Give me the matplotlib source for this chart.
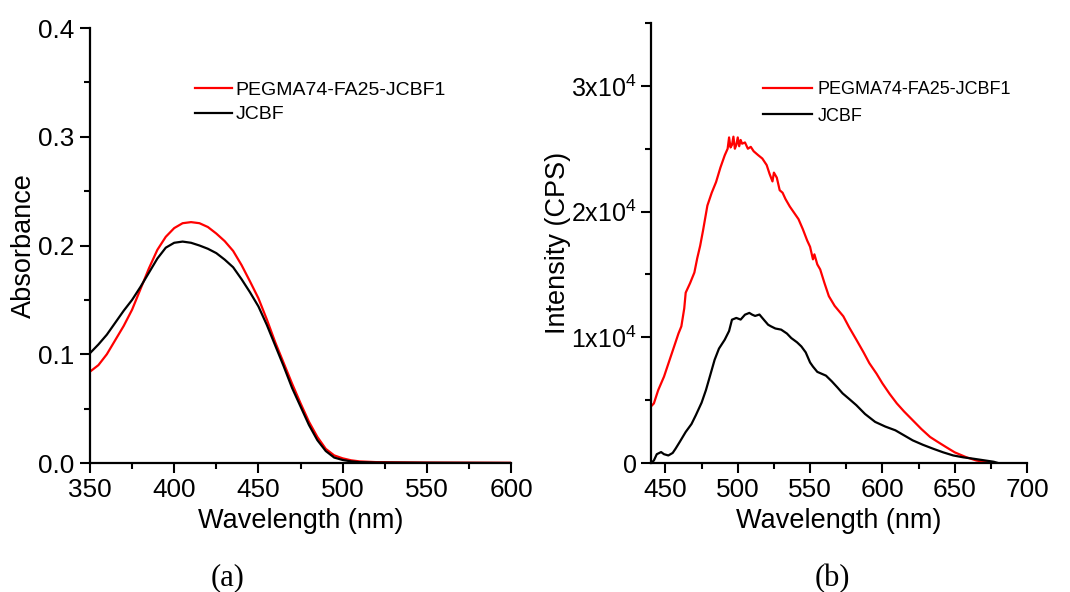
import matplotlib
matplotlib.use("Agg")
import matplotlib.pyplot as plt
from matplotlib.ticker import MultipleLocator, FuncFormatter

plt.rcParams['font.family'] = ['Liberation Sans', 'DejaVu Sans']
plt.rcParams['mathtext.fontset'] = 'custom'
plt.rcParams['mathtext.rm'] = 'Liberation Sans'

# (a) absorbance spectra
abs_wl = [350, 355, 360, 365, 370, 375, 380, 385, 390, 395, 400, 405, 410, 415,
          420, 425, 430, 435, 440, 445, 450, 455, 460, 465, 470, 475, 480, 485,
          490, 495, 500, 505, 510, 520, 550, 600]
abs_jcbf = [0.101, 0.109, 0.118, 0.129, 0.140, 0.150, 0.162, 0.175, 0.188, 0.198,
            0.2025, 0.2036, 0.2025, 0.200, 0.197, 0.193, 0.187, 0.180, 0.169,
            0.157, 0.144, 0.127, 0.108, 0.089, 0.069, 0.052, 0.035, 0.021, 0.011,
            0.005, 0.0028, 0.0015, 0.0008, 0.0004, 0.0002, 0.0]
abs_peg = [0.084, 0.090, 0.100, 0.113, 0.126, 0.141, 0.160, 0.179, 0.196, 0.208,
           0.216, 0.2205, 0.2215, 0.2205, 0.217, 0.211, 0.204, 0.195, 0.182,
           0.167, 0.1515, 0.132, 0.111, 0.092, 0.073, 0.055, 0.038, 0.024, 0.013,
           0.007, 0.0043, 0.0025, 0.0015, 0.0008, 0.0004, 0.0002]

# (b) emission spectra
em_wl_peg = [440, 442, 445, 449, 452, 456, 459, 461, 463, 464, 467, 470, 472, 474,
             476, 479, 482, 485, 488, 491, 493, 494, 495, 496, 497, 498, 499, 500,
             501, 502, 503, 505, 507, 509, 511, 514, 517, 520, 522, 524, 525, 527,
             529, 531, 533, 536, 539, 542, 545, 548, 550, 552, 553, 555, 557, 560,
             563, 567, 573, 577, 582, 587, 591, 596, 600, 605, 610, 615, 621, 627,
             633, 638, 644, 650, 658, 665, 672]
em_peg = [4500, 4740, 5800, 6870, 7900, 9270, 10300, 10870, 12300, 13550, 14300,
          15150, 16300, 17280, 18500, 20480, 21500, 22350, 23500, 24480, 25000,
          25900, 25100, 25300, 25960, 25000, 25300, 25900, 25200, 25700, 25400,
          25500, 25000, 25150, 24800, 24500, 24220, 23700, 23000, 22400, 23100,
          22700, 21700, 21500, 21000, 20400, 19900, 19400, 18600, 17700, 17200,
          16200, 16600, 15800, 15400, 14300, 13270, 12500, 11670, 10800, 9810,
          8800, 7940, 7100, 6340, 5500, 4740, 4100, 3400, 2700, 2070, 1700, 1270,
          850, 460, 200, 60]
em_wl_jcbf = [440, 442, 444, 447, 449, 452, 455, 457, 460, 464, 468, 471, 475, 478,
              481, 484, 487, 491, 494, 496, 499, 502, 505, 508, 510, 512, 515, 518,
              521, 523, 526, 530, 534, 537, 541, 544, 547, 550, 552, 555, 558, 561,
              565, 569, 572.5, 577, 582, 588, 595, 602, 609, 615, 621, 628, 635,
              642, 649, 656, 663, 670, 677, 680]
em_jcbf = [0, 200, 700, 870, 700, 600, 800, 1140, 1700, 2470, 3100, 3800, 4800,
           5800, 7000, 8210, 9100, 9810, 10500, 11400, 11540, 11410, 11800, 11940,
           11800, 11700, 11810, 11400, 11000, 10870, 10700, 10610, 10300, 9940,
           9600, 9270, 8800, 8000, 7670, 7250, 7100, 6950, 6500, 6000, 5540, 5100,
           4600, 3900, 3270, 2900, 2600, 2200, 1800, 1450, 1140, 850, 600, 450,
           340, 220, 100, 0]

labels = ['PEGMA74-FA25-JCBF1', 'JCBF']


def style_axes(ax, size):
    for s in ['top', 'right']:
        ax.spines[s].set_visible(False)
    for s in ['left', 'bottom']:
        ax.spines[s].set_linewidth(1.6)
    ax.tick_params(which='major', direction='out', length=7, width=1.5,
                   labelsize=size, pad=4)
    ax.tick_params(which='minor', direction='out', length=4, width=1.5)


fig = plt.figure(figsize=(10.7, 5.92), dpi=100)

ax1 = fig.add_axes([0.0841, 0.2179, 0.3935, 0.7348])
ax1.plot(abs_wl, abs_peg, color='#ff0000', lw=1.6, label=labels[0])
ax1.plot(abs_wl, abs_jcbf, color='black', lw=1.6, label=labels[1])
ax1.set_xlim(350, 600)
ax1.set_ylim(0, 0.4)
ax1.xaxis.set_major_locator(MultipleLocator(50))
ax1.xaxis.set_minor_locator(MultipleLocator(25))
ax1.yaxis.set_major_locator(MultipleLocator(0.1))
ax1.yaxis.set_minor_locator(MultipleLocator(0.05))
ax1.yaxis.set_major_formatter(FuncFormatter(lambda v, p: f'{v:.1f}'))
style_axes(ax1, 18.8)
ax1.set_xlabel('Wavelength (nm)', fontsize=19.5, labelpad=4)
ax1.set_ylabel('Absorbance', fontsize=19.5, labelpad=1)
ax1.legend(loc='upper left', bbox_to_anchor=(0.23, 0.895), frameon=False,
           fontsize=14, handlelength=1.9, handletextpad=0.2, labelspacing=0.35,
           borderaxespad=0)

ax2 = fig.add_axes([0.6084, 0.2179, 0.3514, 0.7432])
ax2.plot(em_wl_peg, em_peg, color='#ff0000', lw=1.6, label=labels[0])
ax2.plot(em_wl_jcbf, em_jcbf, color='black', lw=1.6, label=labels[1])
ax2.set_xlim(440, 700)
ax2.set_ylim(0, 35000)
ax2.xaxis.set_major_locator(MultipleLocator(50))
ax2.xaxis.set_minor_locator(MultipleLocator(25))
ax2.yaxis.set_major_locator(MultipleLocator(10000))
ax2.yaxis.set_minor_locator(MultipleLocator(5000))
ax2.yaxis.set_major_formatter(FuncFormatter(
    lambda v, p: '0' if v == 0 else r'$\mathregular{%dx10^{4}}$' % round(v / 10000)))
style_axes(ax2, 18.8)
ax2.tick_params(axis='y', which='major', labelsize=18, pad=3)
ax2.set_xlabel('Wavelength (nm)', fontsize=19.5, labelpad=4)
ax2.set_ylabel('Intensity (CPS)', fontsize=19.5, labelpad=0)
ax2.legend(loc='upper left', bbox_to_anchor=(0.28, 0.885), frameon=False,
           fontsize=13, handlelength=2.7, handletextpad=0.3, labelspacing=0.55,
           borderaxespad=0)

fig.text(0.213, 0.024, '(a)', family='Liberation Serif', fontsize=22,
         ha='center', va='center')
fig.text(0.778, 0.022, '(b)', family='Liberation Serif', fontsize=22,
         ha='center', va='center')

fig.savefig('out.png', dpi=100)
